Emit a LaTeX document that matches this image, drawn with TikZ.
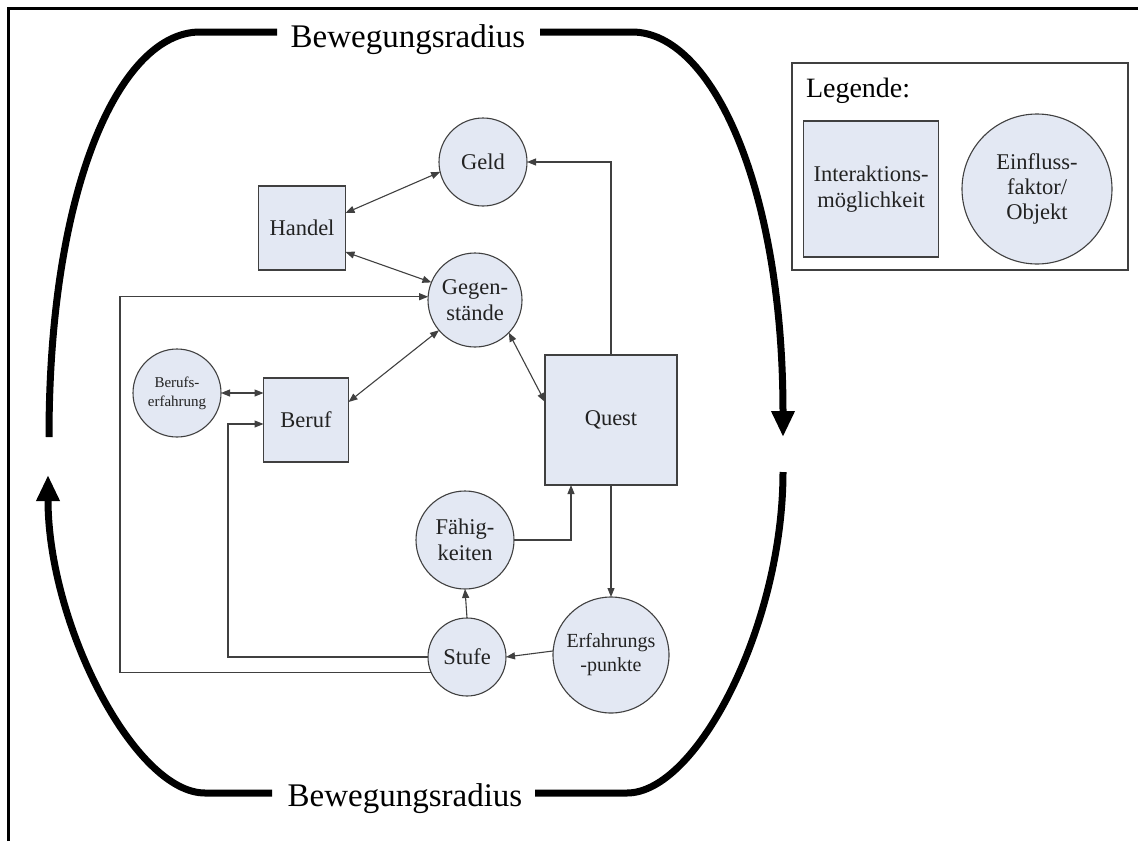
\documentclass[tikz,border=0pt]{standalone}
\usepackage{fontspec}
\setmainfont{Liberation Serif}
\usetikzlibrary{arrows.meta}
\definecolor{nodefill}{HTML}{E3E8F3}
\definecolor{nodeline}{HTML}{404040}
\definecolor{inktext}{HTML}{222222}

\begin{document}
\begin{tikzpicture}[x=1pt,y=-1pt,
  every node/.style={inner sep=0pt, outer sep=0pt},
  txt22/.style={font=\fontsize{22.5}{26}\selectfont},
  shapebase/.style={draw=nodeline, fill=nodefill, line width=1.1pt, text=inktext, align=center, txt22},
  ibox/.style={shapebase, rectangle},
  icirc/.style={shapebase, circle},
  conn/.style={draw=nodeline, line width=1.1pt},
  tipend/.style={-{Triangle[length=9pt,width=7pt]}},
  tipboth/.style={{Triangle[length=9pt,width=7pt]}-{Triangle[length=9pt,width=7pt]}},
  radiusline/.style={line width=7pt, black},
  bigtip/.style={-{Triangle[length=26pt,width=22pt]}},
  biglabel/.style={font=\fontsize{33}{36}\selectfont, anchor=base}
]
\useasboundingbox (0,0) rectangle (1138,841);

% page frame (top and left edges)
\draw[line width=2.5pt] (8.5,841) -- (8.5,8.5) -- (1138,8.5);

% movement radius loop
\node[biglabel] (topLabel) at (408,47) {Bewegungsradius};
\node[biglabel] (botLabel) at (405,806) {Bewegungsradius};

\coordinate (tA) at (277,32);
\coordinate (tB) at (540,32);
\coordinate (bA) at (272,793);
\coordinate (bB) at (535,793);

\draw[radiusline] (tA) -- (200,32) .. controls (120,32) and (49,187) .. (49,437);
\draw[radiusline, bigtip] (tB) -- (632,32) .. controls (712,32) and (783,187) .. (783,437);
\draw[radiusline] (783,472) .. controls (783,625) and (697,793) .. (627,793) -- (bB);
\draw[radiusline, bigtip] (bA) -- (205,793) .. controls (135,793) and (48,625) .. (48,475);

% nodes
\node[icirc, minimum size=88pt] (Geld) at (483,162) {Geld};
\node[ibox, minimum width=87pt, minimum height=84pt] (Handel) at (302,228) {Handel};
\node[icirc, minimum size=94pt] (Gegen) at (475,300) {Gegen-\\stände};
\node[icirc, minimum size=88pt, font=\fontsize{15}{19}\selectfont] (BerufErf) at (177,393) {Berufs-\\erfahrung};
\node[ibox, minimum width=85pt, minimum height=84pt] (Beruf) at (306,420) {Beruf};
\node[ibox, minimum width=132pt, minimum height=130pt] (Quest) at (611,420) {Quest};
\node[icirc, minimum size=98pt] (Faeh) at (465,540) {Fähig-\\keiten};
\node[icirc, minimum size=78pt] (Stufe) at (467,657) {Stufe};
\node[icirc, minimum size=116pt, font=\fontsize{20}{24}\selectfont] (Erf) at (611,655) {Erfahrungs\\-punkte};

% rails for the long connectors
\coordinate (railA) at (120,0);
\coordinate (railB) at (228,0);

% connectors
\draw[conn, tipboth] ([yshift=15pt]Handel.east) -- (Geld.193);
\draw[conn, tipboth] ([yshift=-24pt]Handel.east) -- (Gegen.158);
\draw[conn, tipend] (Quest.north) |- (Geld.east);
\draw[conn, tipend] (Stufe.203) -- (Stufe.203 -| railA) |- (Gegen.176);
\draw[conn, tipend] (Stufe.west) -- (Stufe.west -| railB) |- ([yshift=-4pt]Beruf.west);
\draw[conn, tipboth] (BerufErf.east) -- (BerufErf.east -| Beruf.west);
\draw[conn, tipboth] ([yshift=18pt]Beruf.east) -- (Gegen.220);
\draw[conn, tipboth] (Gegen.316) -- ([yshift=18pt]Quest.west);
\draw[conn, tipend] (Faeh.east) -| ([xshift=-40pt]Quest.south);
\draw[conn, tipend] (Quest.south) -- (Erf.north);
\draw[conn, tipend] (Stufe.north) -- (Faeh.south);
\draw[conn, tipend] (Erf.176) -- (Stufe.east);

% legend
\node[draw=nodeline, line width=1.5pt, minimum width=336pt, minimum height=207pt, anchor=north west] (legend) at (792,63) {};
\node[font=\fontsize{28}{30}\selectfont, anchor=base west] (legTitle) at (806,97) {Legende:};
\node[ibox, minimum width=135pt, minimum height=136pt] (legBox) at (871,189) {Interaktions-\\möglichkeit};
\node[icirc, minimum size=150pt, font=\fontsize{22.5}{25}\selectfont] (legCirc) at (1037,189) {Einfluss-\\faktor/\\Objekt};
\end{tikzpicture}
\end{document}
